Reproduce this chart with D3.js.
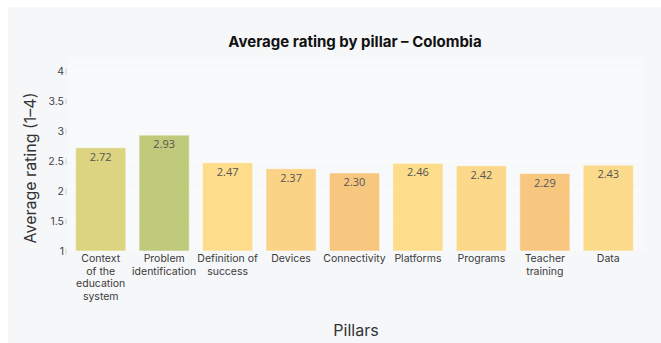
<!DOCTYPE html>
<html>
<head>
<meta charset="utf-8">
<script src="https://cdn.jsdelivr.net/npm/d3@7"></script>
<style>
  html, body { margin: 0; padding: 0; background: #ffffff; }
  svg { display: block; }
</style>
</head>
<body>
<svg id="chart" width="661" height="343"></svg>
<script>
// Average rating per pillar (scale 1–4)
const categories = [
  "Context of the education system",
  "Problem identification",
  "Definition of success",
  "Devices",
  "Connectivity",
  "Platforms",
  "Programs",
  "Teacher training",
  "Data"
];
// Wrapped label lines for the x axis
const categoryLines = [
  ["Context", "of the", "education", "system"],
  ["Problem", "identification"],
  ["Definition of", "success"],
  ["Devices"],
  ["Connectivity"],
  ["Platforms"],
  ["Programs"],
  ["Teacher", "training"],
  ["Data"]
];
const ratings = [2.72, 2.93, 2.47, 2.37, 2.30, 2.46, 2.42, 2.29, 2.43];
const barColors = ["#dcd480", "#bfcb7b", "#fddc8b", "#fbd387", "#f8c77f", "#fddc8b", "#fcd98a", "#f8c77f", "#fcda8b"];
const yTicks = [1, 1.5, 2, 2.5, 3, 3.5, 4];
const yTickLabels = ["1", "1.5", "2", "2.5", "3", "3.5", "4"];

const svg = d3.select("#chart");
const W = 661, H = 343;

// card background
svg.append("rect").attr("x", 8).attr("y", 7).attr("width", W - 8).attr("height", H - 7)
  .attr("fill", "#f6f7f9");

const plot = { left: 69, right: 640, top: 58, bottom: 251 };

// plot panel
svg.append("rect")
  .attr("x", 68).attr("y", plot.top)
  .attr("width", 645 - 68).attr("height", plot.bottom - plot.top)
  .attr("fill", "#f8f9fb");

const x = d3.scaleBand().domain(categories).range([plot.left, plot.right]).paddingInner(0.21).paddingOuter(0.105);
const y = d3.scaleLinear().domain([1, 4]).range([plot.bottom, 71]);

// gridlines
svg.append("g").selectAll("line").data(yTicks.slice(1)).join("line")
  .attr("x1", 68).attr("x2", 640)
  .attr("y1", d => y(d)).attr("y2", d => y(d))
  .attr("stroke", "#fdfdfe").attr("stroke-width", 1);

// y axis tick labels
const yAxis = svg.append("g").attr("transform", `translate(${68},0)`)
  .call(d3.axisLeft(y).tickValues(yTicks).tickFormat((d, i) => yTickLabels[i]).tickSize(0).tickPadding(4));
yAxis.select(".domain").remove();
yAxis.selectAll("text")
  .attr("font-family", "Inter, 'Open Sans', sans-serif")
  .attr("font-size", 10.5).attr("fill", "#444");
yAxis.selectAll(".tick").append("line")
  .attr("x1", -2).attr("x2", -2).attr("y1", -3).attr("y2", 3)
  .attr("stroke", "#c8c8c8").attr("stroke-width", 0.8);

// bars
svg.append("g").selectAll("rect").data(ratings).join("rect")
  .attr("x", (d, i) => x(categories[i]))
  .attr("width", x.bandwidth())
  .attr("y", d => y(d))
  .attr("height", d => y(1) - y(d))
  .attr("fill", (d, i) => barColors[i])
  .attr("stroke", "rgba(255,255,255,0.45)").attr("stroke-width", 1);

// value labels
svg.append("g").selectAll("text").data(ratings).join("text")
  .attr("x", (d, i) => x(categories[i]) + x.bandwidth() / 2)
  .attr("y", d => y(d) + 13)
  .attr("text-anchor", "middle")
  .attr("font-family", "'Open Sans', 'DejaVu Sans', sans-serif")
  .attr("font-size", 11).attr("fill", "#555")
  .text(d => d.toFixed(2));

// x axis category labels
const xl = svg.append("g").selectAll("text").data(categoryLines).join("text")
  .attr("x", (d, i) => x(categories[i]) + x.bandwidth() / 2)
  .attr("y", 262)
  .attr("text-anchor", "middle")
  .attr("font-family", "Inter, 'Open Sans', sans-serif")
  .attr("font-size", 10.5).attr("fill", "#3a3a3a");
xl.each(function(lines, i) {
  const t = d3.select(this);
  lines.forEach((ln, j) => {
    t.append("tspan").attr("x", x(categories[i]) + x.bandwidth() / 2)
      .attr("dy", j === 0 ? 0 : 12.5).text(ln);
  });
});

// title
svg.append("text")
  .attr("x", 355).attr("y", 47)
  .attr("text-anchor", "middle")
  .attr("font-family", "Inter, 'Open Sans', sans-serif")
  .attr("font-weight", 700).attr("font-size", 15).attr("fill", "#111")
  .text("Average rating by pillar – Colombia");

// axis titles
svg.append("text")
  .attr("transform", "translate(36,168) rotate(-90)")
  .attr("text-anchor", "middle")
  .attr("font-family", "Inter, 'Open Sans', sans-serif")
  .attr("font-size", 16).attr("fill", "#333")
  .text("Average rating (1–4)");

svg.append("text")
  .attr("x", 356).attr("y", 336)
  .attr("text-anchor", "middle")
  .attr("font-family", "Inter, 'Open Sans', sans-serif")
  .attr("font-size", 16).attr("fill", "#333")
  .text("Pillars");
</script>
</body>
</html>
